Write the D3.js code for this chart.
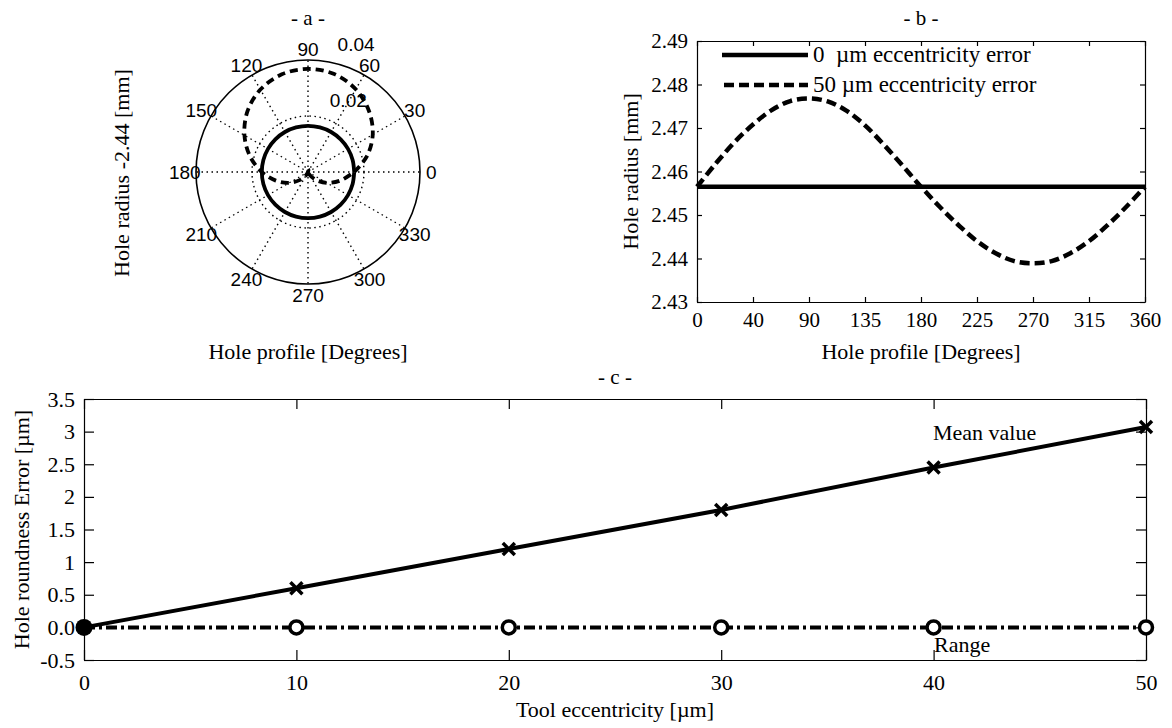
<!DOCTYPE html>
<html>
<head>
<meta charset="utf-8">
<script src="https://cdn.jsdelivr.net/npm/d3@7"></script>
<style>
  body { margin: 0; background: #fff; }
  svg { display: block; }
  text { fill: #000; }
  .serif { font-family: "Liberation Serif", "Times New Roman", serif; }
  .sans { font-family: "Liberation Sans", Arial, sans-serif; }
  .axis path, .axis line { stroke: #000; stroke-width: 1.2; }
  .axis text { font-family: "Liberation Serif", "Times New Roman", serif; fill: #000; }
</style>
</head>
<body>
<svg id="fig" width="1172" height="728"></svg>
<script>
// hole profile angle samples (degrees)
const profileDeg = [0, 15, 30, 45, 60, 75, 90, 105, 120, 135, 150, 165, 180,
                    195, 210, 225, 240, 255, 270, 285, 300, 315, 330, 345, 360];
// hole radius [mm], 0 um eccentricity
const radius0 = [2.4565, 2.4565, 2.4565, 2.4565, 2.4565, 2.4565, 2.4565, 2.4565, 2.4565,
                 2.4565, 2.4565, 2.4565, 2.4565, 2.4565, 2.4565, 2.4565, 2.4565, 2.4565,
                 2.4565, 2.4565, 2.4565, 2.4565, 2.4565, 2.4565, 2.4565];
// hole radius [mm], 50 um eccentricity
const radius50 = [2.4565, 2.4618, 2.4667, 2.4708, 2.4741, 2.4762, 2.4768, 2.4761, 2.4740,
                  2.4706, 2.4662, 2.4614, 2.4565, 2.4519, 2.4477, 2.4440, 2.4412, 2.4394,
                  2.4389, 2.4394, 2.4412, 2.4440, 2.4477, 2.4519, 2.4565];
const polarOffset = 2.44;

const polarSpokes = [0, 30, 60, 90, 120, 150, 180, 210, 240, 270, 300, 330];
const polarRings = [0.02, 0.04];

const bXTicks = [0, 45, 90, 135, 180, 225, 270, 315, 360];
const bXLabels = ["0", "40", "90", "135", "180", "225", "270", "315", "360"];
const bYTicks = [2.43, 2.44, 2.45, 2.46, 2.47, 2.48, 2.49];

// roundness error vs tool eccentricity
const eccentricity = [0, 10, 20, 30, 40, 50];
const meanError = [0, 0.6, 1.2, 1.8, 2.45, 3.07];
const rangeError = [0, 0, 0, 0, 0, 0];
const cYTicks = [-0.5, 0, 0.5, 1, 1.5, 2, 2.5, 3, 3.5];
const cYLabels = ["-0.5", "0.0", "0.5", "1", "1.5", "2", "2.5", "3", "3.5"];
const cXTicks = [0, 10, 20, 30, 40, 50];

const svg = d3.select("#fig");

function label(g, txt, x, y, opts = {}) {
  const t = g.append("text").attr("class", opts.cls || "serif")
    .attr("x", x).attr("y", y)
    .attr("text-anchor", opts.anchor || "middle")
    .style("font-size", (opts.size || 22) + "px")
    .style("white-space", "pre")
    .text(txt);
  if (opts.rotate) t.attr("transform", `rotate(-90,${x},${y})`);
  return t;
}

// ---------- panel a: polar ----------
{
  const cx = 308, cy = 172, R = 112;
  const g = svg.append("g").attr("transform", `translate(${cx},${cy})`);
  const r = d3.scaleLinear().domain([0, 0.04]).range([0, R]);

  polarSpokes.forEach(d => {
    const a = d * Math.PI / 180;
    g.append("line").attr("x1", 0).attr("y1", 0)
      .attr("x2", r(0.04) * Math.cos(a)).attr("y2", -r(0.04) * Math.sin(a))
      .attr("stroke", "#000").attr("stroke-width", 1.4).attr("stroke-dasharray", "1.5,3.5");
  });
  g.append("circle").attr("r", r(polarRings[0])).attr("fill", "none")
    .attr("stroke", "#000").attr("stroke-width", 1.4).attr("stroke-dasharray", "1.5,3.5");
  g.append("circle").attr("r", r(polarRings[1])).attr("fill", "none")
    .attr("stroke", "#000").attr("stroke-width", 1.6);

  const radial = vals => d3.lineRadial()
    .angle((d, i) => Math.PI / 2 - profileDeg[i] * Math.PI / 180)
    .radius(d => r(d - polarOffset))
    .curve(d3.curveCatmullRom)(vals);

  g.append("path").attr("d", radial(radius0)).attr("fill", "none")
    .attr("stroke", "#000").attr("stroke-width", 3.8);
  g.append("path").attr("d", radial(radius50)).attr("fill", "none")
    .attr("stroke", "#000").attr("stroke-width", 3.8).attr("stroke-dasharray", "8,5");

  polarSpokes.forEach(d => {
    const a = d * Math.PI / 180;
    label(g, d, 1.1 * R * Math.cos(a), -1.1 * R * Math.sin(a) + 7, { cls: "sans", size: 19 });
  });
  const c82 = Math.cos(82 * Math.PI / 180), s82 = Math.sin(82 * Math.PI / 180);
  polarRings.forEach(v => {
    label(g, v, r(v) * c82 + 14, -r(v) * s82 - 10, { cls: "sans", size: 19, anchor: "start" });
  });

  label(svg, "- a -", cx, 25, { size: 21 });
  label(svg, "Hole radius -2.44 [mm]", 129, 173, { rotate: true });
  label(svg, "Hole profile [Degrees]", cx, 359);
}

// ---------- panel b: radius vs profile ----------
{
  const L = 697, Rt = 1145, T = 41, B = 302;
  const x = d3.scaleLinear().domain([0, 360]).range([L, Rt]);
  const y = d3.scaleLinear().domain([2.43, 2.49]).range([B, T]);
  const g = svg.append("g");

  g.append("g").attr("class", "axis").attr("transform", `translate(0,${B})`)
    .call(d3.axisBottom(x).tickValues(bXTicks).tickSize(-5).tickSizeOuter(0).tickPadding(10)
      .tickFormat((d, i) => bXLabels[i]))
    .selectAll("text").style("font-size", "21px");
  g.append("g").attr("class", "axis").attr("transform", `translate(0,${T})`)
    .call(d3.axisTop(x).tickValues(bXTicks).tickSize(-5).tickSizeOuter(0).tickFormat(""));
  g.append("g").attr("class", "axis").attr("transform", `translate(${L},0)`)
    .call(d3.axisLeft(y).tickValues(bYTicks).tickSize(-5).tickSizeOuter(0).tickPadding(9)
      .tickFormat(d3.format(".2f")))
    .selectAll("text").style("font-size", "21px");
  g.append("g").attr("class", "axis").attr("transform", `translate(${Rt},0)`)
    .call(d3.axisRight(y).tickValues(bYTicks).tickSize(-5).tickSizeOuter(0).tickFormat(""));

  const line = d3.line().x((d, i) => x(profileDeg[i])).y(d => y(d)).curve(d3.curveCatmullRom);
  g.append("path").attr("d", line(radius0)).attr("fill", "none")
    .attr("stroke", "#000").attr("stroke-width", 4.5);
  g.append("path").attr("d", line(radius50)).attr("fill", "none")
    .attr("stroke", "#000").attr("stroke-width", 4.5).attr("stroke-dasharray", "10,5");

  // legend
  g.append("line").attr("x1", 722).attr("x2", 808).attr("y1", 55).attr("y2", 55)
    .attr("stroke", "#000").attr("stroke-width", 4.5);
  g.append("line").attr("x1", 724).attr("x2", 808).attr("y1", 85).attr("y2", 85)
    .attr("stroke", "#000").attr("stroke-width", 4.5).attr("stroke-dasharray", "10,5");
  label(g, "0  \u00b5m eccentricity error", 813, 62, { anchor: "start", size: 23 });
  label(g, "50 \u00b5m eccentricity error", 813, 92, { anchor: "start", size: 23 });

  label(svg, "- b -", (L + Rt) / 2, 25, { size: 21 });
  label(svg, "Hole radius [mm]", 638, (T + B) / 2, { rotate: true });
  label(svg, "Hole profile [Degrees]", (L + Rt) / 2, 359);
}

// ---------- panel c: roundness error ----------
{
  const L = 84, Rt = 1146, T = 399, B = 660;
  const x = d3.scaleLinear().domain([0, 50]).range([L, Rt]);
  const y = d3.scaleLinear().domain([-0.5, 3.5]).range([B, T]);
  const g = svg.append("g");

  g.append("g").attr("class", "axis").attr("transform", `translate(0,${B})`)
    .call(d3.axisBottom(x).tickValues(cXTicks).tickSize(-10).tickSizeOuter(0).tickPadding(14))
    .selectAll("text").style("font-size", "22px");
  g.append("g").attr("class", "axis").attr("transform", `translate(0,${T})`)
    .call(d3.axisTop(x).tickValues(cXTicks).tickSize(-10).tickSizeOuter(0).tickFormat(""));
  g.append("g").attr("class", "axis").attr("transform", `translate(${L},0)`)
    .call(d3.axisLeft(y).tickValues(cYTicks).tickSize(-10).tickSizeOuter(0).tickPadding(9)
      .tickFormat((d, i) => cYLabels[i]))
    .selectAll("text").style("font-size", "22px");
  g.append("g").attr("class", "axis").attr("transform", `translate(${Rt},0)`)
    .call(d3.axisRight(y).tickValues(cYTicks).tickSize(-10).tickSizeOuter(0).tickFormat(""));

  const line = d3.line().x((d, i) => x(eccentricity[i])).y(d => y(d));
  g.append("path").attr("d", line(rangeError)).attr("fill", "none")
    .attr("stroke", "#000").attr("stroke-width", 4).attr("stroke-dasharray", "11,4,3,4");
  g.append("path").attr("d", line(meanError)).attr("fill", "none")
    .attr("stroke", "#000").attr("stroke-width", 4);

  eccentricity.forEach((e, i) => {
    if (i === 0) return;
    g.append("path").attr("transform", `translate(${x(e)},${y(meanError[i])})`)
      .attr("d", "M-6,-6L6,6M-6,6L6,-6").attr("stroke", "#000").attr("stroke-width", 3.5);
    g.append("circle").attr("cx", x(e)).attr("cy", y(rangeError[i])).attr("r", 6.5)
      .attr("fill", "#fff").attr("stroke", "#000").attr("stroke-width", 3.5);
  });
  g.append("circle").attr("cx", x(eccentricity[0])).attr("cy", y(meanError[0])).attr("r", 8.5)
    .attr("fill", "#000");

  label(g, "Mean value", 933, 440, { anchor: "start" });
  label(g, "Range", 934, 652, { anchor: "start" });

  label(svg, "- c -", (L + Rt) / 2, 384, { size: 21 });
  label(svg, "Hole roundness Error [\u00b5m]", 29, (T + B) / 2, { rotate: true });
  label(svg, "Tool eccentricity [\u00b5m]", (L + Rt) / 2, 717);
}
</script>
</body>
</html>
